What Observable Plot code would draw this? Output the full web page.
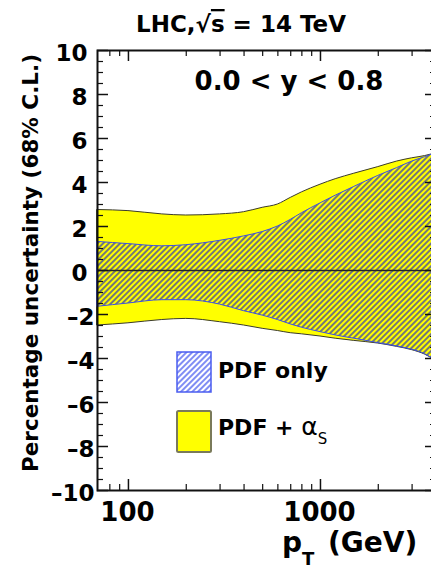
<!DOCTYPE html>
<html><head><meta charset="utf-8">
<script src="https://cdn.jsdelivr.net/npm/d3@7"></script>
<script src="https://cdn.jsdelivr.net/npm/@observablehq/plot@0.6"></script>
<style>
html,body{margin:0;padding:0;background:#fff;overflow:hidden;width:431px;height:570px}
#chart svg{display:block;max-width:none!important}
</style></head><body><div id="chart"></div>
<script>
// ---- data ----
const pT        = [69,   100,  150,  200,  300,  400,  500,  600,  700,  800,  1000, 1200, 1500, 2000, 2500, 3000, 3500, 3900];
const pdfAsHigh = [2.75, 2.7,  2.55, 2.5,  2.55, 2.65, 2.85, 3.0,  3.3,  3.55, 3.9,  4.15, 4.4,  4.7,  4.95, 5.1,  5.2,  5.3];
const pdfHigh   = [1.3,  1.2,  1.1,  1.15, 1.35, 1.55, 1.75, 2.0,  2.3,  2.6,  3.05, 3.4,  3.8,  4.3,  4.65, 4.95, 5.15, 5.3];
const pdfLow    = [-1.65,-1.5, -1.35,-1.35,-1.55,-1.85,-2.05,-2.25,-2.45,-2.6, -2.8, -2.95,-3.1, -3.3, -3.45,-3.6, -3.8, -4.05];
const pdfAsLow  = [-2.5, -2.4, -2.25,-2.2, -2.35,-2.5, -2.65,-2.75,-2.85,-2.9, -3.0, -3.1, -3.2, -3.32,-3.47,-3.62,-3.82,-4.05];

const yMajor = [-10, -8, -6, -4, -2, 0, 2, 4, 6, 8, 10];
const yMinor = [-9.5,-9,-8.5,-7.5,-7,-6.5,-5.5,-5,-4.5,-3.5,-3,-2.5,-1.5,-1,-0.5,0.5,1,1.5,2.5,3,3.5,4.5,5,5.5,6.5,7,7.5,8.5,9,9.5];
const xMajor = [100, 1000];
const xMinor = [80, 90, 200, 300, 400, 500, 600, 700, 800, 900, 2000, 3000];

const rows = pT.map((p, i) => ({pT: p, asHi: pdfAsHigh[i], asLo: pdfAsLow[i], hi: pdfHigh[i], lo: pdfLow[i]}));

const W = 436, H = 570, ML = 97, MR = 0, MT = 50, MB = 80;
const FW = W - ML - MR, FH = H - MT - MB;
const F = "'DejaVu Sans', sans-serif";
const minus = d => d < 0 ? "\u2013" + (-d) : String(d);

const chart = Plot.plot({
  width: W, height: H,
  marginLeft: ML, marginRight: MR, marginTop: MT, marginBottom: MB,
  x: {type: "log", domain: [69, 4020], axis: null},
  y: {domain: [-10, 10], axis: null},
  style: {background: "white", fontFamily: F, maxWidth: "none", overflow: "visible"},
  marks: [
    Plot.areaY(rows, {x: "pT", y1: "asLo", y2: "asHi", fill: "#ffff00", stroke: "#3a3a2a", strokeWidth: 1, curve: "monotone-x"}),
    Plot.areaY(rows, {x: "pT", y1: "lo", y2: "hi", fill: "url(#hatchArea)", stroke: "#3b4ee6", strokeWidth: 1, curve: "monotone-x"}),
    Plot.ruleY([0], {stroke: "#222", strokeWidth: 1.3}),
    // inward ticks on all four sides
    Plot.tickY(yMajor, {y: d => d, insetRight: FW - 11, stroke: "#111", strokeWidth: 1.5}),
    Plot.tickY(yMinor, {y: d => d, insetRight: FW - 6, stroke: "#111", strokeWidth: 1.2}),
    Plot.tickY(yMajor, {y: d => d, insetLeft: FW - 11, stroke: "#111", strokeWidth: 1.5}),
    Plot.tickY(yMinor, {y: d => d, insetLeft: FW - 6, stroke: "#111", strokeWidth: 1.2}),
    Plot.tickX(xMajor, {x: d => d, insetTop: FH - 11, stroke: "#111", strokeWidth: 1.5}),
    Plot.tickX(xMinor, {x: d => d, insetTop: FH - 6, stroke: "#111", strokeWidth: 1.2}),
    Plot.tickX(xMajor, {x: d => d, insetBottom: FH - 11, stroke: "#111", strokeWidth: 1.5}),
    Plot.tickX(xMinor, {x: d => d, insetBottom: FH - 6, stroke: "#111", strokeWidth: 1.2}),
    Plot.frame({stroke: "#111", strokeWidth: 2}),
    // tick labels
    Plot.text(yMajor.filter(d => d >= 0), {y: d => d, frameAnchor: "left", dx: -10, dy: 3, textAnchor: "end", text: minus, fontSize: 23, fontWeight: "bold", fill: "#000"}),
    Plot.text(yMajor.filter(d => d < 0), {y: d => d, frameAnchor: "left", dx: -3, dy: 3, textAnchor: "end", text: minus, fontSize: 23, fontWeight: "bold", fill: "#000"}),
    Plot.text(xMajor, {x: d => d, frameAnchor: "bottom", lineAnchor: "top", dy: 12, dx: -1, text: d => String(d), fontSize: 26, fontWeight: "bold", fill: "#000"})
  ]
});
document.getElementById("chart").appendChild(chart);

// ---- patterns, annotations and legend ----
const svg = d3.select(chart);
svg.style("max-width", "none");
const defs = svg.insert("defs", ":first-child");
function hatch(id, color, sw) {
  const p = defs.append("pattern").attr("id", id).attr("patternUnits", "userSpaceOnUse")
    .attr("width", 4).attr("height", 4).attr("patternTransform", "rotate(45)");
  p.append("line").attr("x1", 1).attr("y1", -1).attr("x2", 1).attr("y2", 5)
    .attr("stroke", color).attr("stroke-width", sw);
}
hatch("hatchArea", "#4e5598", 1.6);
hatch("hatchLegend", "#5566f0", 1.5);

const g = svg.append("g").attr("font-family", F).attr("fill", "#000").attr("text-anchor", "start");

// title
const t = g.append("text").attr("x", 241).attr("y", 32).attr("text-anchor", "middle")
  .attr("font-size", 23).attr("font-weight", "bold");
t.append("tspan").text("LHC,\u221A");
t.append("tspan").attr("text-decoration", "overline").text("s");
t.append("tspan").text(" = 14 TeV");

// rapidity bin
g.append("text").attr("x", 289).attr("y", 90).attr("text-anchor", "middle")
  .attr("font-size", 26).attr("font-weight", "bold").text("0.0 < y < 0.8");

// y axis title
g.append("text").attr("transform", "translate(38,263) rotate(-90)").attr("text-anchor", "middle")
  .attr("font-size", 21.5).attr("font-weight", "bold").text("Percentage uncertainty (68% C.L.)");

// x axis title
const xt = g.append("text").attr("x", 282).attr("y", 552).attr("font-size", 28).attr("font-weight", "bold");
xt.append("tspan").text("p");
xt.append("tspan").attr("font-size", 18).attr("dy", 13).text("T");
xt.append("tspan").attr("x", 328).attr("dy", -13).text("(GeV)");

// legend
g.append("rect").attr("x", 177).attr("y", 352).attr("width", 34).attr("height", 40).attr("fill", "white");
g.append("rect").attr("x", 177).attr("y", 352).attr("width", 34).attr("height", 40)
  .attr("fill", "url(#hatchLegend)").attr("stroke", "#4a5cf0").attr("stroke-width", 1.5);
g.append("rect").attr("x", 177).attr("y", 411).attr("width", 34).attr("height", 41).attr("rx", 1.5)
  .attr("fill", "#ffff00").attr("stroke", "#7a7a5a").attr("stroke-width", 2);
g.append("text").attr("x", 218).attr("y", 378).attr("font-size", 22).attr("font-weight", "bold").text("PDF only");
const l2 = g.append("text").attr("x", 218).attr("y", 435).attr("font-size", 22).attr("font-weight", "bold");
l2.append("tspan").text("PDF + ");
l2.append("tspan").attr("font-weight", "normal").attr("font-size", 25).text("\u03B1");
l2.append("tspan").attr("font-weight", "normal").attr("font-size", 15).attr("dy", 9).text("S");
</script></body></html>
